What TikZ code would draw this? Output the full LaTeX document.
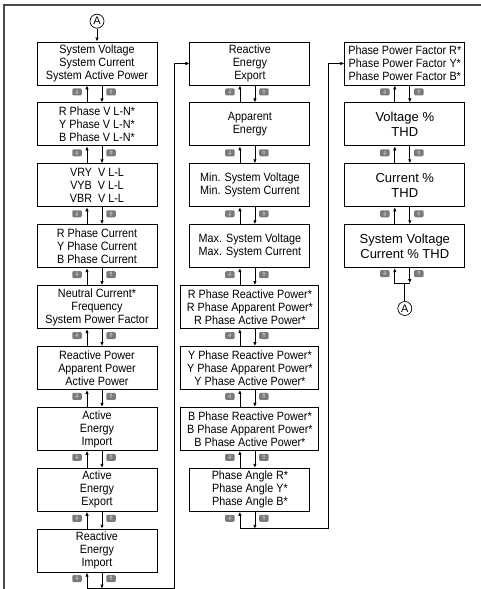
\documentclass[tikz,border=0pt]{standalone}
\usepackage{fontspec}
\setmainfont{Liberation Sans}
\newfontfamily\narrowsans{Liberation Sans}[FakeStretch=0.9]
\usepackage{tikz}
\usetikzlibrary{arrows.meta, positioning, calc}
\usepackage{xcolor}
\definecolor{keygrey}{HTML}{7A7A7A}
\definecolor{framegrey}{HTML}{4A4A4A}

\begin{document}
\begin{tikzpicture}[
    x=1pt, y=1pt,
    font=\narrowsans\fontsize{12}{13}\selectfont,
    node distance=17pt,
    screen/.style={
        rectangle, draw=black, line width=0.9pt,
        minimum width=120pt,
        minimum height=43pt,
        inner sep=1pt,
        align=center
    },
    widescreen/.style={
        screen,
        minimum width=138pt
    },
    bigscreen/.style={
        screen,
        font=\rmfamily\fontsize{13}{15}\selectfont
    },
    keyicon/.style={
        rectangle, fill=keygrey, rounded corners=1.2pt,
        minimum width=9.5pt, minimum height=7pt, inner sep=0pt,
        text=white, font=\fontsize{5}{5}\selectfont
    },
    link/.style={
        circle, draw=black, line width=0.7pt,
        minimum size=14pt, inner sep=0pt,
        font=\rmfamily\fontsize{11}{11}\selectfont
    },
    arr/.style={
        -{Latex[length=4pt,width=3.5pt]},
        line width=0.8pt
    },
    frame/.style={
        line width=1.3pt,
        draw=framegrey
    }
]

\useasboundingbox (0,0) rectangle (481,-589);
\draw[frame] (4,-589) -- (4,-5) -- (481,-5);

% ==========================================
% COLUMN 1
% ==========================================

\node[screen] (a1) at (97,-63.5) {System Voltage\\System Current\\System Active Power};
\node[screen, below=of a1] (a2) {R Phase V L-N*\\Y Phase V L-N*\\B Phase V L-N*};
\node[screen, below=of a2] (a3) {VRY\ \ V L-L\\VYB\ \ V L-L\\VBR\ \ V L-L};
\node[screen, below=of a3] (a4) {R Phase Current\\Y Phase Current\\B Phase Current};
\node[screen, below=of a4] (a5) {Neutral Current*\\Frequency\\System Power Factor};
\node[screen, below=of a5] (a6) {Reactive Power\\Apparent Power\\Active Power};
\node[screen, below=of a6] (a7) {Active\\Energy\\Import};
\node[screen, below=of a7] (a8) {Active\\Energy\\Export};
\node[screen, below=of a8] (a9) {Reactive\\Energy\\Import};

% ==========================================
% COLUMN 2
% ==========================================

\node[screen, right=32pt of a1] (b1) {Reactive\\Energy\\Export};
\node[screen, below=of b1] (b2) {Apparent\\Energy};
\node[screen, below=of b2] (b3) {Min. System Voltage\\Min. System Current};
\node[screen, below=of b3] (b4) {Max. System Voltage\\Max. System Current};
\node[widescreen, below=of b4] (b5) {R Phase Reactive Power*\\R Phase Apparent Power*\\R Phase Active Power*};
\node[widescreen, below=of b5] (b6) {Y Phase Reactive Power*\\Y Phase Apparent Power*\\Y Phase Active Power*};
\node[widescreen, below=of b6] (b7) {B Phase Reactive Power*\\B Phase Apparent Power*\\B Phase Active Power*};
\node[screen, below=of b7] (b8) {Phase Angle R*\\Phase Angle Y*\\Phase Angle B*};

% ==========================================
% COLUMN 3
% ==========================================

\node[screen, right=34pt of b1] (c1) {Phase Power Factor R*\\Phase Power Factor Y*\\Phase Power Factor B*};
\node[bigscreen, below=of c1] (c2) {Voltage \%\\THD};
\node[bigscreen, below=of c2] (c3) {Current \%\\THD};
\node[bigscreen, below=of c3] (c4) {System Voltage\\Current \% THD};

% ==========================================
% UP / DOWN KEYS BETWEEN SCREENS
% ==========================================

\node[link, above=13pt of a1] (inA) {A};
\draw[arr] (inA) -- (a1);

\foreach \u/\l in {a1/a2,a2/a3,a3/a4,a4/a5,a5/a6,a6/a7,a7/a8,a8/a9,
                   b1/b2,b2/b3,b3/b4,b4/b5,b5/b6,b6/b7,b7/b8,
                   c1/c2,c2/c3,c3/c4} {
    \draw[arr] ([xshift=-10pt]\l.north) -- ([xshift=-10pt]\u.south);
    \draw[arr] ([xshift=5pt]\u.south) -- ([xshift=5pt]\l.north);
    \node[keyicon] (kd-\u) at ($(\u.south)!0.5!(\l.north)+(-20pt,2pt)$) {$\Downarrow$};
    \node[keyicon] (ku-\u) at ($(\u.south)!0.5!(\l.north)+(14pt,2pt)$) {$\Uparrow$};
}

% ==========================================
% WRAP-AROUND LINKS
% ==========================================

\coordinate (lpa) at ([yshift=-16pt]a9.south);
\coordinate (tna) at ([xshift=-15pt]b1.west);
\draw[arr] ([xshift=5pt]a9.south) -- ([xshift=5pt]lpa);
\draw[arr] (tna |- lpa) -| ([xshift=-10pt]a9.south);
\draw[arr] (tna |- lpa) -- (tna) -- (b1.west);

\coordinate (lpb) at ([yshift=-17pt]b8.south);
\coordinate (tnb) at ([xshift=-16pt]c1.west);
\draw[arr] ([xshift=5pt]b8.south) -- ([xshift=5pt]lpb);
\draw[arr] (tnb |- lpb) -| ([xshift=-10pt]b8.south);
\draw[arr] (tnb |- lpb) -- (tnb) -- (c1.west);

\coordinate (lpc) at ([yshift=-15pt]c4.south);
\draw[arr] ([xshift=5pt]c4.south) -- ([xshift=5pt]lpc);
\draw[arr] ([xshift=5pt]lpc) -- ([xshift=-10pt]lpc) -- ([xshift=-10pt]c4.south);
\node[link, below=18pt of lpc] (outA) {A};
\draw[line width=0.8pt] (lpc) -- (outA);

\foreach \u/\l in {a9/lpa, b8/lpb, c4/lpc} {
    \node[keyicon] (kd-\u) at ($(\u.south)!0.5!(\l)+(-20pt,2pt)$) {$\Downarrow$};
    \node[keyicon] (ku-\u) at ($(\u.south)!0.5!(\l)+(14pt,2pt)$) {$\Uparrow$};
}

\end{tikzpicture}
\end{document}
